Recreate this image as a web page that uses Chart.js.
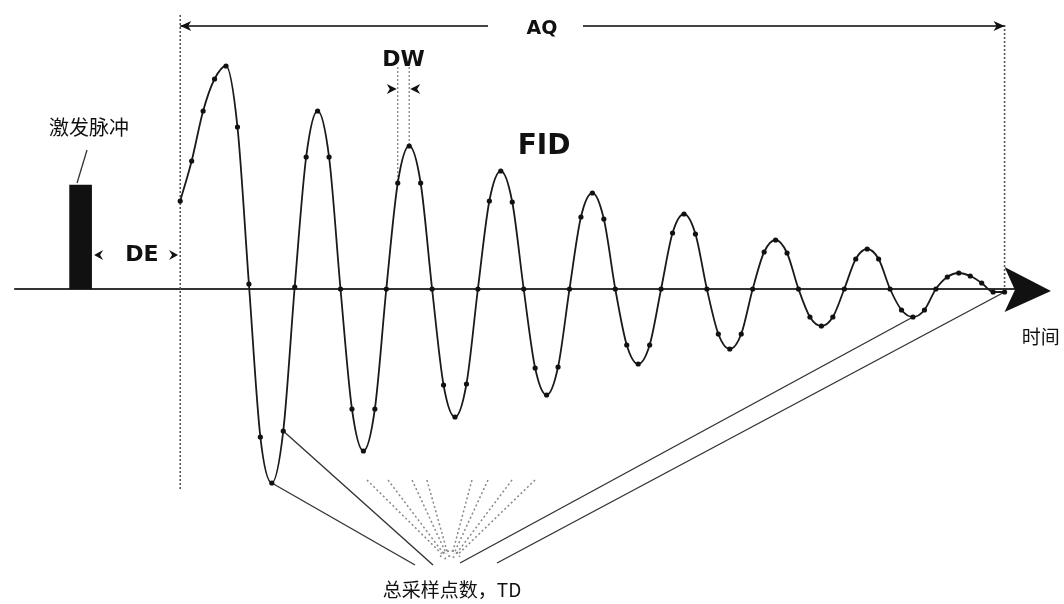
<!DOCTYPE html>
<html><head><meta charset="utf-8">
<script src="https://cdn.jsdelivr.net/npm/chart.js@4/dist/chart.umd.min.js"></script>
<style>html,body{margin:0;padding:0;background:#fff;}#wrap{width:1064px;height:604px;}</style>
</head><body><div id="wrap"><canvas id="c" width="1064" height="604"></canvas></div>
<script>
// ---- data (time in sampling intervals DW, amplitude in arbitrary units) ----
const fidSamples = [88,128,178,210,223,162,5,-148,-194,-142,
  2,132,178,132,0,-120,-162,-120,0,106,
  143,106,0,-96,-128,-95,0,88,118,87,
  0,-79,-106,-78,0,72,96,70,0,-56,
  -75,-56,0,56,75,55,0,-45,-60,-45,
  0,37,49,36,0,-28,-37,-28,0,30,
  40,30,0,-21,-28,-21,0,12,16,13,
  6,-3,-3];
const sampleTimes = fidSamples.map((_, i) => i);
const pulseTime = [-8.7];
const pulseHeight = [104];
const acqStart = 0;
const acqEnd = 72;
const dwSamples = [19, 20];
const tdLinkSamples = [8, 9, 64, 72];
const labels = {pulse:'激发脉冲', de:'DE', dw:'DW', aq:'AQ', fid:'FID', time:'时间', td:'总采样点数，TD'};

const annot = {
  id: 'annot',
  beforeDatasetsDraw(chart) {
    const ctx = chart.ctx, X = v => chart.scales.x.getPixelForValue(v), Y = v => chart.scales.y.getPixelForValue(v);
    ctx.save();
    // time axis baseline
    ctx.strokeStyle = '#333'; ctx.lineWidth = 2.2;
    ctx.beginPath(); ctx.moveTo(X(-14.5), Y(0)); ctx.lineTo(X(72.9), Y(0)); ctx.stroke();
    // dotted acquisition boundaries
    ctx.setLineDash([2, 2]); ctx.strokeStyle = '#555'; ctx.lineWidth = 1.6;
    ctx.beginPath(); ctx.moveTo(X(acqStart), Y(274)); ctx.lineTo(X(acqStart), Y(-201)); ctx.stroke();
    ctx.beginPath(); ctx.moveTo(X(acqEnd), Y(264)); ctx.lineTo(X(acqEnd), Y(0)); ctx.stroke();
    // DW guides
    ctx.strokeStyle = '#777'; ctx.lineWidth = 1.2;
    dwSamples.forEach(i => { ctx.beginPath(); ctx.moveTo(X(i), Y(222)); ctx.lineTo(X(i), Y(fidSamples[i])); ctx.stroke(); });
    // dotted fan
    const fx = 23.57, fy = -273;
    ctx.strokeStyle = '#888'; ctx.lineWidth = 1.5; ctx.setLineDash([2, 2.5]);
    [16.31, 18.15, 20.25, 21.55, 25.48, 26.88, 28.98, 30.99].forEach(t => {
      const x0 = X(t), y0 = Y(-191), x1 = X(fx), y1 = Y(fy);
      ctx.beginPath(); ctx.moveTo(x0, y0); ctx.lineTo(x0 + (x1 - x0) * 0.9, y0 + (y1 - y0) * 0.9); ctx.stroke();
    });
    [6, 11].forEach(r => { ctx.beginPath(); ctx.arc(X(fx), Y(fy), r, Math.PI * 1.15, Math.PI * 1.85); ctx.stroke(); });
    ctx.setLineDash([]);
    // solid TD links
    ctx.strokeStyle = '#333'; ctx.lineWidth = 1.4;
    const ends = [[20.51, -276], [22.08, -276], [24.44, -274], [27.67, -274]];
    tdLinkSamples.forEach((i, k) => {
      ctx.beginPath(); ctx.moveTo(X(i), Y(fidSamples[i])); ctx.lineTo(X(ends[k][0]), Y(ends[k][1])); ctx.stroke();
    });
    ctx.restore();
  },
  afterDatasetsDraw(chart) {
    const ctx = chart.ctx, X = v => chart.scales.x.getPixelForValue(v), Y = v => chart.scales.y.getPixelForValue(v);
    const head = (x, y, dir, L, H, N) => {
      ctx.beginPath(); ctx.moveTo(x, y); ctx.lineTo(x - dir * L, y - H); ctx.lineTo(x - dir * (L - N), y);
      ctx.lineTo(x - dir * L, y + H); ctx.closePath(); ctx.fill();
    };
    ctx.save();
    ctx.fillStyle = '#111'; ctx.strokeStyle = '#222';
    // big time arrow
    ctx.beginPath(); ctx.moveTo(X(76.05), Y(-2)); ctx.lineTo(X(72), Y(22)); ctx.lineTo(X(72.9), Y(-1)); ctx.lineTo(X(72), Y(-23)); ctx.closePath(); ctx.fill();
    // AQ arrow
    ctx.lineWidth = 1.8; ctx.strokeStyle = '#444';
    ctx.beginPath(); ctx.moveTo(X(acqStart), Y(263)); ctx.lineTo(X(26.88), Y(263)); ctx.stroke();
    ctx.beginPath(); ctx.moveTo(X(35.18), Y(263)); ctx.lineTo(X(acqEnd), Y(263)); ctx.stroke();
    head(X(acqStart), Y(263), -1, 11, 5, 3);
    head(X(acqEnd), Y(263), 1, 11, 5, 3);
    // DE arrowheads
    head(X(-7.52), Y(34), -1, 9, 5, 3);
    head(X(-0.19), Y(34), 1, 9, 5, 3);
    // DW arrowheads
    head(X(dwSamples[0]) - 1, Y(200), 1, 10, 5, 3);
    head(X(dwSamples[1]) + 1, Y(200), -1, 10, 5, 3);
    // pulse leader
    ctx.lineWidth = 1.3; ctx.strokeStyle = '#333';
    ctx.beginPath(); ctx.moveTo(X(-8.14), Y(139)); ctx.lineTo(X(-9.01), Y(106)); ctx.stroke();
    // text
    ctx.textAlign = 'center'; ctx.textBaseline = 'middle'; ctx.fillStyle = '#111';
    ctx.font = 'bold 22px "DejaVu Sans"';
    ctx.fillText(labels.de, X(-3.34), Y(34));
    ctx.fillText(labels.dw, X(19.5), Y(229));
    ctx.font = 'bold 19px "DejaVu Sans"';
    ctx.fillText(labels.aq, X(31.6), Y(260));
    ctx.font = 'bold 28px "DejaVu Sans"';
    ctx.fillText(labels.fid, X(31.78), Y(142));
    ctx.font = '20px "Noto Sans CJK SC"';
    ctx.fillText(labels.pulse, X(-7.96), Y(162));
    ctx.font = '19px "Noto Sans CJK SC"';
    ctx.fillText(labels.time, X(75.17), Y(-48));
    ctx.fillText(labels.td, X(23.74), Y(-301));
    ctx.restore();
  }
};

new Chart(document.getElementById('c'), {
  type: 'line',
  data: {
    datasets: [
      {
        type: 'line', label: 'FID',
        data: sampleTimes.map((t, i) => ({x: t, y: fidSamples[i]})),
        borderColor: '#1a1a1a', borderWidth: 1.8,
        pointRadius: 2.6, pointBackgroundColor: '#111', pointBorderWidth: 0,
        cubicInterpolationMode: 'monotone', fill: false, clip: false
      },
      {
        type: 'bar', label: 'pulse',
        data: pulseTime.map((t, i) => ({x: t, y: pulseHeight[i]})),
        backgroundColor: '#111', barThickness: 22, grouped: false
      }
    ]
  },
  options: {
    responsive: false, animation: false, devicePixelRatio: 1,
    layout: {padding: 0, autoPadding: false},
    plugins: {legend: {display: false}, tooltip: {enabled: false}},
    scales: {
      x: {type: 'linear', min: -15.74, max: 77.19, display: false, offset: false},
      y: {type: 'linear', min: -315, max: 289, display: false}
    }
  },
  plugins: [annot]
});
</script></body></html>
